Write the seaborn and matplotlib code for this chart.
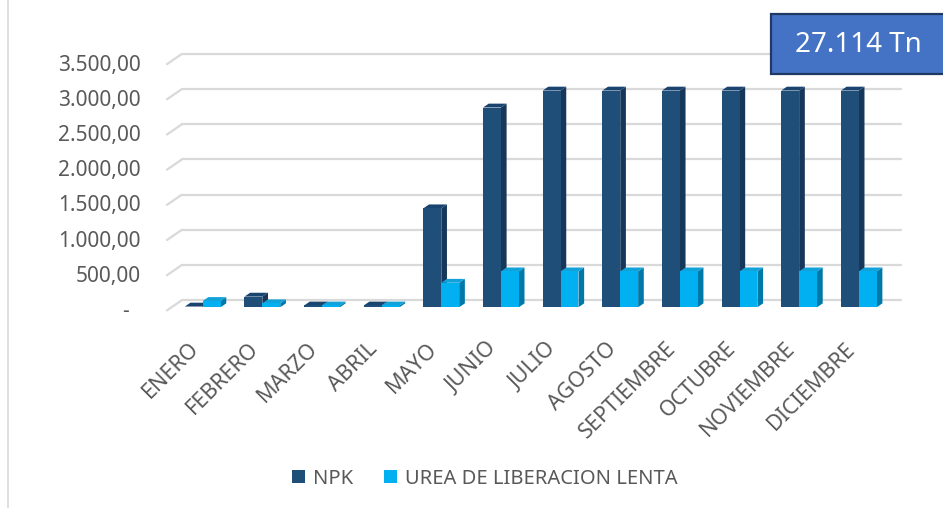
import numpy as np
import pandas as pd
import matplotlib
matplotlib.use("Agg")
import matplotlib.pyplot as plt
import matplotlib.transforms as mtransforms
import seaborn as sns
from matplotlib.patches import Polygon, Rectangle, Patch
from matplotlib.lines import Line2D

# values (toneladas por mes)
months = ["ENERO", "FEBRERO", "MARZO", "ABRIL", "MAYO", "JUNIO", "JULIO",
          "AGOSTO", "SEPTIEMBRE", "OCTUBRE", "NOVIEMBRE", "DICIEMBRE"]
npk = [10, 151, 25, 25, 1406, 2839, 3080, 3080, 3080, 3080, 3080, 3080]
urea = [89, 56, 25, 25, 348, 510, 510, 510, 510, 510, 510, 510]
series_names = ["NPK", "UREA DE LIBERACION LENTA"]
y_ticks = [0, 500, 1000, 1500, 2000, 2500, 3000, 3500]
total_label = "27.114 Tn"

front_colors = ["#1F4E79", "#00B0F0"]
side_colors = ["#16375A", "#0078A8"]
top_colors = ["#1A4470", "#12A2DA"]
text_color = "#595959"
grid_color = "#D9D9D9"


def fmt_es(v):
    # 3.500,00 style, zero shown as a dash
    if v == 0:
        return "-  "
    s = f"{v:,.2f}"
    return s.replace(",", "X").replace(".", ",").replace("X", ".")


df = pd.DataFrame({
    "mes": months * 2,
    "serie": [series_names[0]] * len(months) + [series_names[1]] * len(months),
    "valor": npk + urea,
})

sns.set_theme(style="white")
plt.rcParams["font.family"] = ["Noto Sans", "DejaVu Sans"]

fig = plt.figure(figsize=(9.43, 5.08), dpi=100)
fig.patch.set_facecolor("white")
ax = fig.add_axes([0.177, 1 - 309 / 508, 0.778, 248 / 508])

sns.barplot(data=df, x="mes", y="valor", hue="serie", palette=front_colors,
            width=0.6, saturation=1, ax=ax, legend=False)

x_left, x_right = -0.6, 11.7
ax.set_xlim(x_left, x_right)
ax.set_ylim(0, 3500)

# fake 3D depth for the bars
dx, dy = 0.095, 55
for i, cont in enumerate(ax.containers):
    base_z = 3 + i
    for bar in cont:
        x0 = bar.get_x()
        w = bar.get_width()
        h = bar.get_height()
        bar.set_zorder(base_z + 0.5)
        bar.set_edgecolor("none")
        side = Polygon([(x0 + w, 0), (x0 + w + dx, dy), (x0 + w + dx, h + dy), (x0 + w, h)],
                       closed=True, facecolor=side_colors[i], edgecolor="none", zorder=base_z)
        top = Polygon([(x0, h), (x0 + dx, h + dy), (x0 + w + dx, h + dy), (x0 + w, h)],
                      closed=True, facecolor=top_colors[i], edgecolor="none", zorder=base_z)
        ax.add_patch(side)
        ax.add_patch(top)

# gridlines with a slanted front piece, like the 3D back wall
front_off, back_off, slant = -45, 100, 0.25
for v in y_ticks:
    ax.plot([x_left, x_left + slant], [v + front_off, v + back_off],
            color=grid_color, lw=1.6, clip_on=False, zorder=1)
    ax.plot([x_left + slant, x_right], [v + back_off, v + back_off],
            color=grid_color, lw=1.6, clip_on=False, zorder=1)

ax.set_yticks([v - 25 for v in y_ticks], [fmt_es(v) for v in y_ticks])
ax.tick_params(axis="y", length=0, pad=19, labelsize=15, labelcolor=text_color)
ax.tick_params(axis="x", length=0, pad=30, labelsize=15.5, labelcolor=text_color)
shift = mtransforms.ScaledTranslation(-7 / 100, 5 / 100, fig.dpi_scale_trans)
for lbl in ax.get_xticklabels():
    lbl.set_rotation(45)
    lbl.set_ha("right")
    lbl.set_va("center")
    lbl.set_rotation_mode("anchor")
    lbl.set_transform(lbl.get_transform() + shift)
ax.set_xlabel("")
ax.set_ylabel("")
for sp in ax.spines.values():
    sp.set_visible(False)
ax.set_facecolor("none")

# legend at the bottom
handles = [Patch(facecolor=c, edgecolor="none") for c in front_colors]
leg = ax.legend(handles, series_names, loc="center", bbox_to_anchor=(0.514, 0.058),
                bbox_transform=fig.transFigure, ncol=2, frameon=False, fontsize=14.5,
                handlelength=0.65, handleheight=0.65, handletextpad=0.4, columnspacing=1.5)
for t in leg.get_texts():
    t.set_color(text_color)

# chart area border (left edge visible)
fig.add_artist(Line2D([8 / 943, 8 / 943], [0, 1], transform=fig.transFigure,
                      color="#D9D9D9", lw=1.2))

# total box top right
fig.add_artist(Rectangle((771 / 943, 1 - 74 / 508), 0.3, 60 / 508, transform=fig.transFigure,
                         facecolor="#4472C4", edgecolor="#1F3864", lw=1.6, clip_on=False))
fig.text(858 / 943, 1 - 45 / 508, total_label, color="white", fontsize=20,
         ha="center", va="center")

fig.savefig("out.png", dpi=100)
